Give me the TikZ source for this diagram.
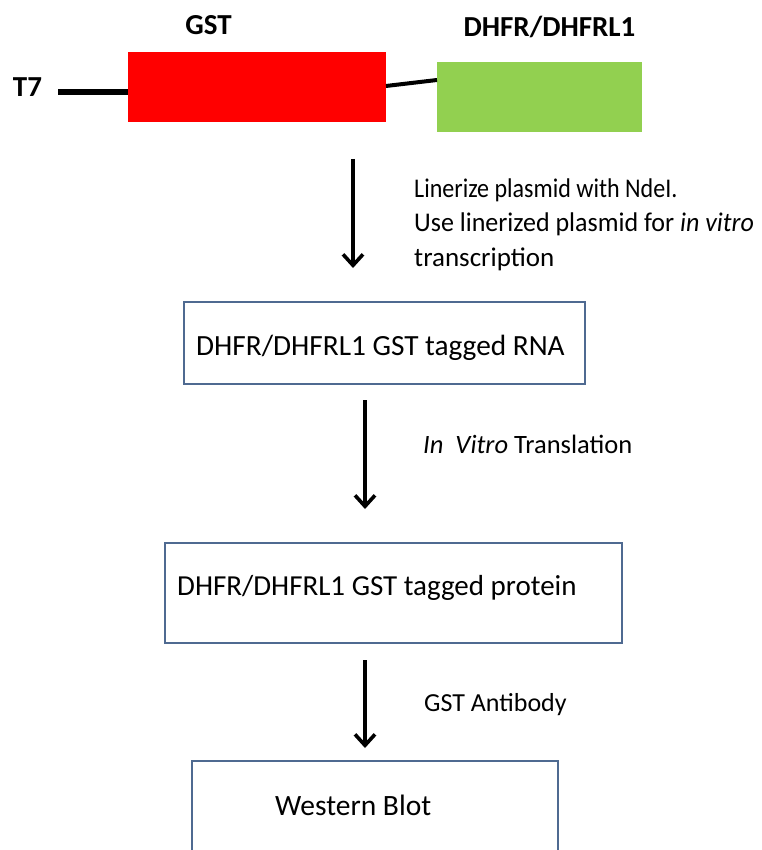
\documentclass[tikz,border=0pt]{standalone}
\usepackage{graphicx}
\usepackage{fontspec}
\setmainfont{Carlito}
\usetikzlibrary{arrows.meta}
\definecolor{gstred}{RGB}{255,0,0}
\definecolor{dhfrgreen}{RGB}{146,208,80}
\definecolor{boxblue}{RGB}{79,106,145}
\begin{document}
\begin{tikzpicture}[x=1pt,y=-1pt,
  flowbox/.style={draw=boxblue, line width=1.8pt, minimum width=#1, inner sep=0pt},
  boxtext/.style={font=\fontsize{#1}{34}\selectfont, inner sep=0pt, anchor=base west},
  sidetext/.style={font=\fontsize{#1}{34.5}\selectfont, inner sep=0pt, anchor=base west, align=left},
  toplabel/.style={font=\bfseries\fontsize{29}{34}\selectfont, inner sep=0pt, anchor=base},
  flowarrow/.style={line width=3.6pt, -{Straight Barb[length=11pt,width=20pt,line width=3.6pt]}},
  gene/.style={minimum width=#1, minimum height=70pt, inner sep=0pt, draw=none}
]
\useasboundingbox (0,0) rectangle (761,850);
\clip (0,0) rectangle (761,850);
% construct
\node[toplabel] (t7) at (27.5,97) {T7};
\node[gene=258pt, fill=gstred] (gst) at (257,87) {};
\node[gene=205pt, fill=dhfrgreen] (dhfr) at (539.5,97.5) {};
\node[toplabel] (gstlab) at (208.5,35) {GST};
\node[toplabel] (dhfrlab) at (549.5,37) {DHFR/DHFRL1};
\coordinate (t7end) at (58,92.5);
\draw[line width=6pt] (t7end) -- (gst.west |- t7end);
\coordinate (linkA) at (386,86);
\coordinate (linkB) at (437,80);
\draw[line width=4pt] (linkA) -- (linkB);
% arrow 1
\coordinate (a1s) at (353,159);
\coordinate (a1e) at (353,268);
\draw[flowarrow] (a1s) -- (a1e);
\node[sidetext=27] (step1) at (414,197) {\scalebox{0.89}[1]{Linerize plasmid with NdeI.}};
\node[sidetext=27] (step1b) at (414,231.5) {\scalebox{0.963}[1]{Use linerized plasmid for \textit{in vitro}}};
\node[sidetext=27] (step1c) at (414,266) {transcription};
% box 1
\node[flowbox=401pt, minimum height=82pt] (rna) at (384.5,343) {};
\node[boxtext=29.3] (rnatext) at (196,355) {DHFR/DHFRL1 GST tagged RNA};
% arrow 2
\coordinate (a2s) at (365,400);
\coordinate (a2e) at (365,509);
\draw[flowarrow] (a2s) -- (a2e);
\node[sidetext=26.5] (step2) at (423,453) {\textit{In\ \ Vitro} Translation};
% box 2
\node[flowbox=457pt, minimum height=100pt] (prot) at (393.5,593) {};
\node[boxtext=29] (prottext) at (177,595) {DHFR/DHFRL1 GST tagged protein};
% arrow 3
\coordinate (a3s) at (365,660);
\coordinate (a3e) at (365,748);
\draw[flowarrow] (a3s) -- (a3e);
\node[sidetext=26] (step3) at (424,711) {GST Antibody};
% box 3
\node[flowbox=366pt, minimum height=96pt] (wb) at (375,809) {};
\node[boxtext=29.5] (wbtext) at (275,815) {Western Blot};
\end{tikzpicture}
\end{document}
